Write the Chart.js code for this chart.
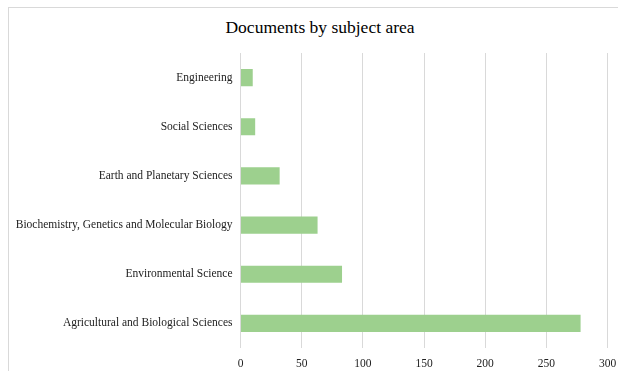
<!DOCTYPE html>
<html>
<head>
<meta charset="utf-8">
<script src="https://cdn.jsdelivr.net/npm/chart.js@4"></script>
<style>
    body { margin: 0; background: #fff; overflow: hidden; }
    .frame { position: absolute; left: 8px; top: 7px; width: 640px; height: 400px; border: 1px solid #d9d9d9; }
    .title { position: absolute; left: 120px; width: 400px; top: 17px; text-align: center;
             font-family: 'Liberation Serif', 'Times New Roman', serif; font-size: 17.5px; color: #000; line-height: 21px; }
    #docChart { position: absolute; left: 0; top: 0; }
</style>
</head>
<body>
<div class="frame"></div>
<div class="title">Documents by subject area</div>
<canvas id="docChart" width="618" height="371"></canvas>
<script>
const subjects = [
    "Engineering",
    "Social Sciences",
    "Earth and Planetary Sciences",
    "Biochemistry, Genetics and Molecular Biology",
    "Environmental Science",
    "Agricultural and Biological Sciences"
];
const documents = [10, 12, 32, 63, 83, 278];
const xTicks = [0, 50, 100, 150, 200, 250, 300];

const serif = "'Liberation Serif', 'Times New Roman', serif";

new Chart(document.getElementById("docChart"), {
    type: "bar",
    data: {
        labels: subjects,
        datasets: [{
            label: "Documents",
            data: documents,
            backgroundColor: "#9dd08e",
            categoryPercentage: 1,
            barPercentage: 0.35
        }]
    },
    options: {
        indexAxis: "y",
        responsive: false,
        animation: false,
        layout: { padding: { top: 53, right: 10.5, bottom: 0, left: 0 } },
        plugins: {
            legend: { display: false },
            tooltip: { enabled: false }
        },
        scales: {
            x: {
                min: 0,
                max: 300,
                afterBuildTicks: s => { s.ticks = xTicks.map(v => ({ value: v })); },
                afterFit: s => { s.height = 23; s.paddingLeft = 0; s.paddingRight = 0; },
                grid: { color: "#d9d9d9", drawTicks: false },
                border: { display: false },
                ticks: { color: "#222", padding: 9, font: { family: serif, size: 11.5 } }
            },
            y: {
                afterFit: s => { s.width = 240.5; s.paddingTop = 0; s.paddingBottom = 0; },
                grid: { display: false, drawTicks: false },
                border: { display: false },
                ticks: { color: "#222", padding: 8, font: { family: serif, size: 11.5 } }
            }
        }
    }
});
</script>
</body>
</html>
